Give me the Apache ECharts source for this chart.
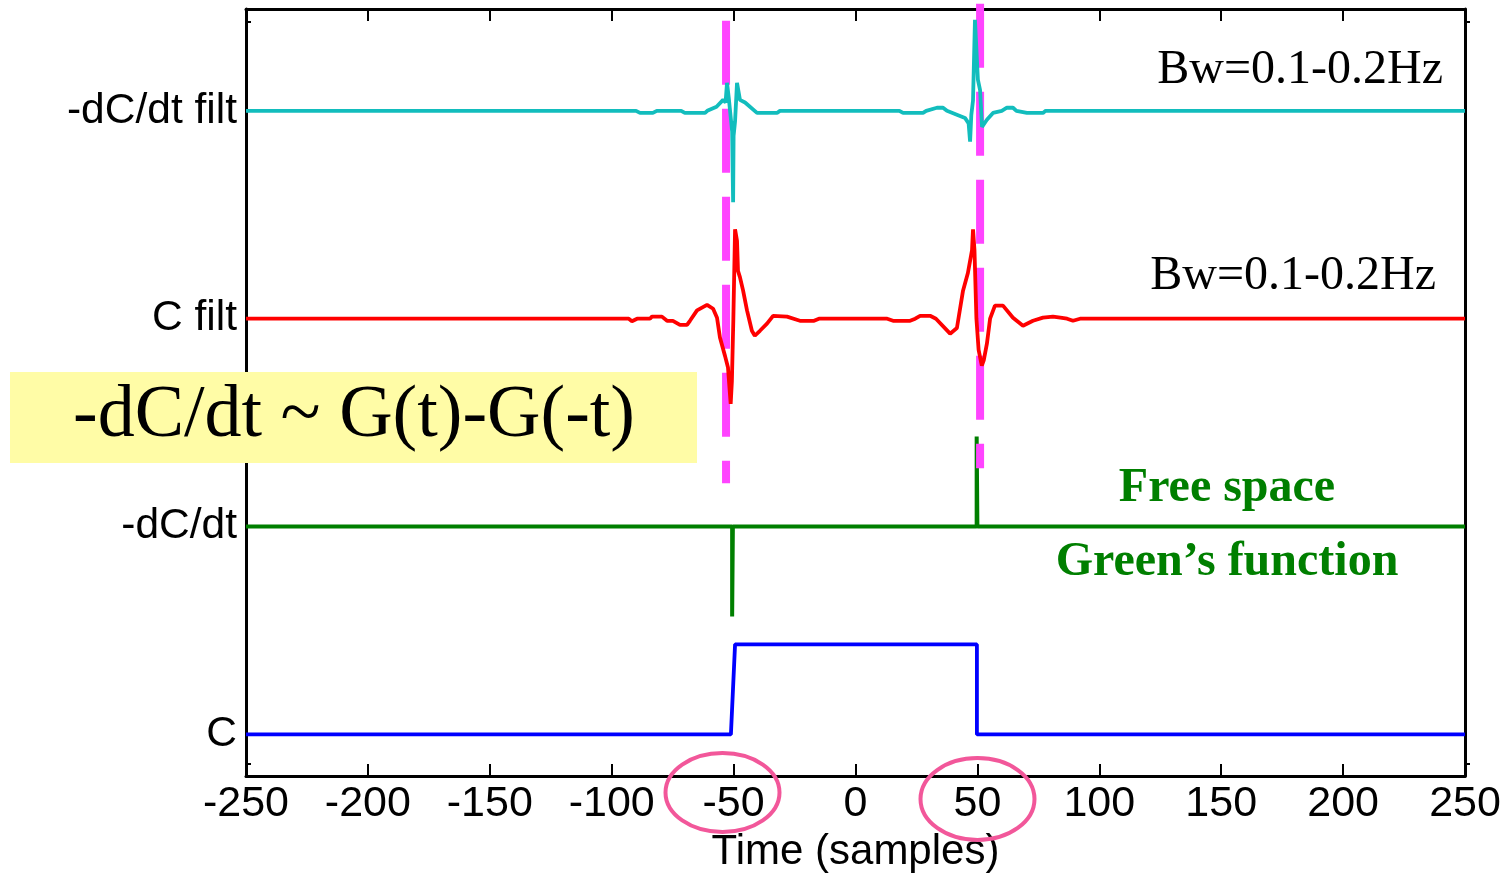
<!DOCTYPE html>
<html>
<head>
<meta charset="utf-8">
<script src="https://cdn.jsdelivr.net/npm/echarts@6/dist/echarts.min.js"></script>
<style>html,body{margin:0;padding:0;background:#fff;}#chart{width:1504px;height:873px;}</style>
</head>
<body>
<div id="chart"></div>
<script>
// ---- data (time in samples, amplitude relative to each trace's baseline) ----
var xTicks = [-250, -200, -150, -100, -50, 0, 50, 100, 150, 200, 250];
var traceNames = ['C', '-dC/dt', 'C filt', '-dC/dt filt'];
var traceOffsets = [0, 1, 2, 3];

var cTrace = [[-250,0],[-51.1,0],[-49.4,0.433],[49.8,0.433],[49.8,0],[250,0]];

var dcdtTrace = [[-250,0],[-50.6,0],[-50.6,-0.433],[-50.3,-0.433],[-50.3,0],
  [49.7,0],[49.7,0.433],[50.0,0.433],[50.0,0],[250,0]];

var cFiltTrace = [[-250,0],[-93,0],[-91.7,-0.012],[-89.6,0],[-84.3,0],[-83.5,0.01],[-79.4,0.01],
  [-77.3,-0.01],[-74.9,-0.01],[-72,-0.03],[-69.1,-0.03],[-67.9,-0.01],[-65,0.04],[-60.9,0.067],
  [-58.4,0.048],[-56.8,0.005],[-55.6,-0.09],[-53.5,-0.18],[-52.3,-0.235],[-51.2,-0.41],
  [-50.7,-0.3],[-50.1,0.0],[-49.4,0.43],[-48.6,0.375],[-48.2,0.23],[-47.4,0.2],[-46.1,0.135],
  [-44.5,0.04],[-42.5,-0.058],[-41.3,-0.082],[-39.2,-0.058],[-36.3,-0.024],[-33.8,0.014],
  [-28.1,0.01],[-22.8,-0.01],[-17,-0.01],[-15,0],
  [13,0],[15.4,-0.01],[22.4,-0.01],[24.5,0],[26.5,0.014],[30.6,0.014],[33,0],[38.8,-0.072],
  [41.6,-0.045],[44.1,0.135],[46.1,0.22],[47.8,0.33],[48.2,0.43],[48.8,0.33],[49.6,0.0],
  [50.5,-0.15],[51.8,-0.226],[52.6,-0.2],[53.9,-0.12],[55.2,0],[57.2,0.063],[60.5,0.063],
  [64.6,0.005],[68.7,-0.034],[72.8,-0.01],[76.9,0.005],[81,0.01],[84,0.005],[86.8,0],
  [89.2,-0.01],[92.1,0],[250,0]];

var dcdtFiltTrace = [[-250,0],[-90,0],[-88.4,-0.01],[-83.1,-0.01],[-81.5,0],[-71.5,0],
  [-70,-0.01],[-61.7,-0.01],[-60.8,0],[-57,0.02],[-54.3,0.053],[-53.3,0.04],[-52.7,0.135],
  [-51.9,0.053],[-50.6,-0.1],[-50.2,-0.44],[-50.0,-0.12],[-49.4,-0.05],[-48.6,0.135],
  [-47.4,0.053],[-45.3,0.04],[-40.4,-0.01],[-32.2,-0.01],[-31,0],
  [18,0],[19.5,-0.01],[27.7,-0.01],[29,0],[33.4,0.015],[35.9,0.015],[37.5,0],[44.9,-0.034],
  [46.4,-0.06],[47.0,-0.148],[47.5,-0.02],[48.2,0.05],[49.0,0.438],[50.2,0.15],[51.1,0.1],
  [51.9,-0.077],[53.9,-0.043],[56.4,-0.01],[60,0],[62.1,0.015],[64.6,0.015],[66,0],
  [70.3,-0.01],[76.9,-0.01],[78,0],[250,0]];

// dashed marker lines: [time, top value, bottom value] in axis units
var markerLeft = [-53.1, 3.433, 1.208];
var markerRight = [51.1, 3.515, 1.281];

var yTickValues = [-0.14, 0, 1, 2, 3, 3.43];

// ---- build ----
function shift(arr, off) { return arr.map(function (p) { return [p[0], p[1] + off]; }); }
function vline(m) { return [[m[0], m[1]], [m[0], m[2]]]; }

var FONT = 'Liberation Sans, Arial, Helvetica, sans-serif';
var SERIF = 'Liberation Serif, Times New Roman, serif';

var chart = echarts.init(document.getElementById('chart'), null, { renderer: 'canvas' });

function lineSeries(data, color, width, extra, dash) {
  var s = {
    type: 'line', data: data, symbol: 'none', showSymbol: false, animation: false,
    lineStyle: { color: color, width: width, type: dash || 'solid', cap: 'butt' }, silent: true, clip: false
  };
  if (extra) for (var k in extra) s[k] = extra[k];
  return s;
}

var option = {
  backgroundColor: '#ffffff',
  animation: false,
  grid: { left: 246, right: 39, top: 9, bottom: 97, containLabel: false, outerBoundsMode: 'none' },
  xAxis: [{
    type: 'value', min: -250, max: 250, interval: 50, position: 'bottom',
    axisLine: { show: true, onZero: false, lineStyle: { color: '#000', width: 3 } },
    axisTick: { show: true, inside: true, length: 12, lineStyle: { color: '#000', width: 2 } },
    axisLabel: { show: true, color: '#000', fontSize: 43, fontFamily: FONT, margin: 7 },
    splitLine: { show: false },
    name: 'Time (samples)', nameLocation: 'middle', nameGap: 55,
    nameTextStyle: { color: '#000', fontSize: 42, fontFamily: FONT }
  }, {
    type: 'value', min: -250, max: 250, interval: 50, position: 'top',
    axisLine: { show: true, onZero: false, lineStyle: { color: '#000', width: 3 } },
    axisTick: { show: true, inside: true, length: 12, lineStyle: { color: '#000', width: 2 } },
    axisLabel: { show: false }, splitLine: { show: false }
  }],
  yAxis: [{
    type: 'value', min: -0.2, max: 3.49, position: 'left',
    axisLine: { show: true, onZero: false, lineStyle: { color: '#000', width: 3 } },
    axisTick: { show: true, inside: true, length: 5, customValues: yTickValues, lineStyle: { color: '#000', width: 2 } },
    axisLabel: {
      show: true, customValues: traceOffsets, color: '#000', fontSize: 42.5, fontFamily: FONT, margin: 9,
      formatter: function (v) { var i = traceOffsets.indexOf(Math.round(v)); return i >= 0 ? traceNames[i] : ''; }
    },
    splitLine: { show: false }
  }, {
    type: 'value', min: -0.2, max: 3.49, position: 'right',
    axisLine: { show: true, onZero: false, lineStyle: { color: '#000', width: 3 } },
    axisTick: { show: true, inside: false, length: 5, customValues: [-0.14, 3.43], lineStyle: { color: '#000', width: 2 } },
    axisLabel: { show: false }, splitLine: { show: false }
  }],
  series: [
    lineSeries(shift(dcdtTrace, traceOffsets[1]), '#007f00', 4),
    lineSeries(shift(cTrace, traceOffsets[0]), '#0000ff', 3.8),
    lineSeries(vline(markerLeft), '#ff44ff', 8, { z: 3 }, [64, 24]),
    lineSeries(vline(markerRight), '#ff44ff', 8, { z: 3 }, [64, 24]),
    lineSeries(shift(cFiltTrace, traceOffsets[2]), '#ff0000', 3.8, { z: 4 }),
    lineSeries(shift(dcdtFiltTrace, traceOffsets[3]), '#12bdbd', 3.8, { z: 4 })
  ],
  graphic: [
    { type: 'rect', shape: { x: 10, y: 372, width: 687, height: 91 }, style: { fill: '#fffca6' }, z: 10 },
    { type: 'text', x: 354, y: 417, z: 11,
      style: { text: '-dC/dt ~ G(t)-G(-t)', fill: '#000', font: '74px ' + SERIF, textAlign: 'center', textVerticalAlign: 'middle' } },
    { type: 'text', x: 1443, y: 70, z: 11,
      style: { text: 'Bw=0.1-0.2Hz', fill: '#000', font: '48px ' + SERIF, textAlign: 'right', textVerticalAlign: 'middle' } },
    { type: 'text', x: 1436, y: 276, z: 11,
      style: { text: 'Bw=0.1-0.2Hz', fill: '#000', font: '48px ' + SERIF, textAlign: 'right', textVerticalAlign: 'middle' } },
    { type: 'text', x: 1227, y: 489, z: 11,
      style: { text: 'Free space', fill: '#007f00', font: 'bold 48px ' + SERIF, textAlign: 'center', textVerticalAlign: 'middle' } },
    { type: 'text', x: 1227, y: 563, z: 11,
      style: { text: 'Green\u2019s function', fill: '#007f00', font: 'bold 48px ' + SERIF, textAlign: 'center', textVerticalAlign: 'middle' } },
    { type: 'ellipse', shape: { cx: 722.5, cy: 792.5, rx: 57, ry: 39.5 }, z: 12,
      style: { fill: 'none', stroke: '#f2579a', lineWidth: 4 } },
    { type: 'ellipse', shape: { cx: 977.5, cy: 799, rx: 57, ry: 41 }, z: 12,
      style: { fill: 'none', stroke: '#f2579a', lineWidth: 4 } }
  ]
};
chart.setOption(option);
</script>
</body>
</html>
